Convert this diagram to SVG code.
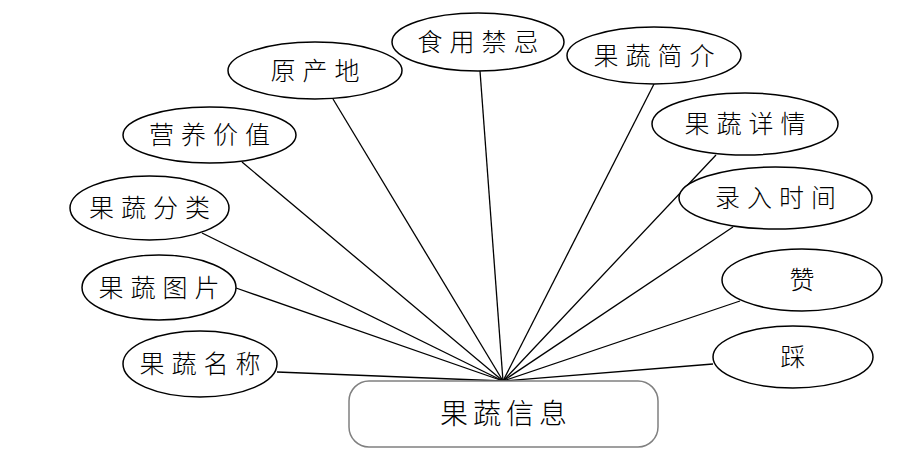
<svg xmlns="http://www.w3.org/2000/svg" width="921" height="467" viewBox="0 0 921 467">
<style>
.n ellipse{fill:#fff;stroke:#000;stroke-width:1.5}
.n text{font-family:"Noto Sans CJK SC","Liberation Serif",sans-serif;font-size:25px;font-weight:300;letter-spacing:7px;text-anchor:middle;fill:#000}
.c line{stroke:#000;stroke-width:1.3}
</style>
<rect width="921" height="467" fill="#fff"/>
<g class="c" id="connectors">
<line x1="333" y1="99" x2="503" y2="381"/>
<line x1="480" y1="71" x2="503" y2="381"/>
<line x1="654" y1="84" x2="503" y2="381"/>
<line x1="242" y1="162" x2="503" y2="381"/>
<line x1="716" y1="155" x2="503" y2="381"/>
<line x1="202" y1="233" x2="503" y2="381"/>
<line x1="733" y1="227" x2="503" y2="381"/>
<line x1="236" y1="288" x2="503" y2="381"/>
<line x1="740" y1="301" x2="503" y2="381"/>
<line x1="277" y1="372" x2="503" y2="381"/>
<line x1="713" y1="364" x2="503" y2="381"/>
</g>
<g class="n" id="n1"><ellipse cx="315" cy="70.5" rx="87" ry="28.5"/><text x="318.5" y="79.5">原产地</text></g>
<g class="n" id="n2"><ellipse cx="478" cy="42" rx="86" ry="29"/><text x="481.5" y="50.5">食用禁忌</text></g>
<g class="n" id="n3"><ellipse cx="654" cy="55.5" rx="87" ry="28.5"/><text x="657.5" y="64.5">果蔬简介</text></g>
<g class="n" id="n4"><ellipse cx="209.5" cy="135" rx="86.5" ry="28"/><text x="213" y="143.5">营养价值</text></g>
<g class="n" id="n5"><ellipse cx="745" cy="124" rx="93" ry="31"/><text x="748.5" y="133">果蔬详情</text></g>
<g class="n" id="n6"><ellipse cx="149.5" cy="208" rx="79.5" ry="32"/><text x="153" y="217">果蔬分类</text></g>
<g class="n" id="n7"><ellipse cx="775.5" cy="198" rx="96.5" ry="31"/><text x="779" y="207">录入时间</text></g>
<g class="n" id="n8"><ellipse cx="159" cy="287.5" rx="77" ry="32.5"/><text x="162.5" y="296.5">果蔬图片</text></g>
<g class="n" id="n9"><ellipse cx="802" cy="280" rx="80" ry="31"/><text x="805.5" y="289">赞</text></g>
<g class="n" id="n10"><ellipse cx="200" cy="364" rx="77" ry="33"/><text x="203.5" y="373">果蔬名称</text></g>
<g class="n" id="n11"><ellipse cx="793" cy="357" rx="80" ry="31"/><text x="796.5" y="366">踩</text></g>
<g id="e" class="n"><rect x="349" y="381" width="309" height="66" rx="20" fill="#fff" stroke="#808080" stroke-width="1.5"/><text x="506" y="424" style="font-size:28px;letter-spacing:5px">果蔬信息</text></g>
</svg>
